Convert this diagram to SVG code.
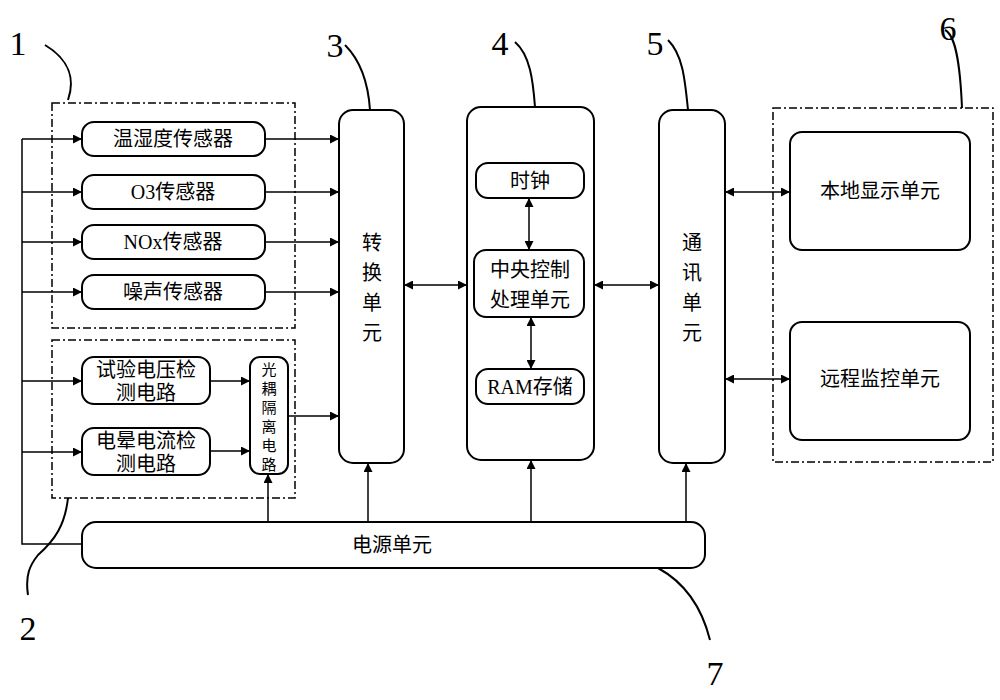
<svg xmlns="http://www.w3.org/2000/svg" width="1000" height="700" viewBox="0 0 1000 700">
<defs>
<marker id="a" viewBox="0 0 10 10" refX="10" refY="5" markerWidth="9" markerHeight="9" markerUnits="userSpaceOnUse" orient="auto-start-reverse"><path d="M0,0L10,5L0,10z" fill="#000"/></marker>
<style>
.b{fill:#fff;stroke:#000;stroke-width:2}
.d{fill:none;stroke:#000;stroke-width:1.5;stroke-dasharray:8 3 2 3}
.c{fill:none;stroke:#000;stroke-width:1.5}
.e{fill:none;stroke:#000;stroke-width:1.5;marker-end:url(#a)}
.f{fill:none;stroke:#000;stroke-width:1.5;marker-end:url(#a);marker-start:url(#a)}
.l{fill:none;stroke:#000;stroke-width:2}
text{font-family:"Liberation Serif","Noto Sans CJK SC",serif;font-size:20px;text-anchor:middle;fill:#000}
.n{font-size:34px}
.s{font-size:15px}
</style>
</defs>
<rect width="1000" height="700" fill="#fff"/>
<rect class="d" x="52" y="103" width="243" height="225"/>
<rect class="d" x="52" y="340" width="243" height="158"/>
<rect class="d" x="773" y="108" width="220" height="354"/>
<g id="n1"><rect class="b" x="82" y="122" width="183" height="34" rx="12"/><text x="173" y="146">温湿度传感器</text></g>
<g id="n2"><rect class="b" x="82" y="175" width="183" height="34" rx="12"/><text x="173" y="199">O3传感器</text></g>
<g id="n3"><rect class="b" x="82" y="225" width="183" height="34" rx="12"/><text x="173" y="249">NOx传感器</text></g>
<g id="n4"><rect class="b" x="82" y="275" width="183" height="34" rx="12"/><text x="173" y="299">噪声传感器</text></g>
<g id="n5"><rect class="b" x="82" y="357" width="128" height="47" rx="12"/><text x="146" y="377">试验电压检</text><text x="146" y="400">测电路</text></g>
<g id="n6"><rect class="b" x="82" y="428" width="128" height="47" rx="12"/><text x="146" y="448">电晕电流检</text><text x="146" y="471">测电路</text></g>
<g id="n7"><rect class="b" x="250" y="357" width="38" height="117" rx="10"/><text class="s" x="269" y="375">光</text><text class="s" x="269" y="394">耦</text><text class="s" x="269" y="413">隔</text><text class="s" x="269" y="432">离</text><text class="s" x="269" y="451">电</text><text class="s" x="269" y="470">路</text></g>
<g id="n8"><rect class="b" x="339" y="110" width="65" height="353" rx="14"/><text x="372" y="250">转</text><text x="372" y="280">换</text><text x="372" y="310">单</text><text x="372" y="340">元</text></g>
<g id="n9"><rect class="b" x="467" y="107" width="127" height="353" rx="14"/></g>
<g id="n10"><rect class="b" x="476" y="163" width="108" height="35" rx="12"/><text x="530" y="188">时钟</text></g>
<g id="n11"><rect class="b" x="474" y="250" width="110" height="67" rx="12"/><text x="530" y="277">中央控制</text><text x="530" y="307">处理单元</text></g>
<g id="n12"><rect class="b" x="476" y="369" width="108" height="35" rx="12"/><text x="530" y="394">RAM存储</text></g>
<g id="n13"><rect class="b" x="659" y="110" width="66" height="353" rx="14"/><text x="692" y="250">通</text><text x="692" y="280">讯</text><text x="692" y="310">单</text><text x="692" y="340">元</text></g>
<g id="n14"><rect class="b" x="790" y="132" width="180" height="118" rx="12"/><text x="880" y="198">本地显示单元</text></g>
<g id="n15"><rect class="b" x="790" y="322" width="180" height="118" rx="12"/><text x="880" y="386">远程监控单元</text></g>
<g id="n16"><rect class="b" x="82" y="522" width="623" height="46" rx="14"/><text x="392" y="552">电源单元</text></g>
<g id="connectors">
<path class="c" d="M82,544H22V139"/>
<path class="e" d="M22,139H82"/><path class="e" d="M22,192H82"/><path class="e" d="M22,242H82"/><path class="e" d="M22,292H82"/><path class="e" d="M22,381H82"/><path class="e" d="M22,452H82"/>
<path class="e" d="M265,139H339"/><path class="e" d="M265,192H339"/><path class="e" d="M265,242H339"/><path class="e" d="M265,292H339"/><path class="e" d="M288,416H339"/><path class="e" d="M210,381H250"/><path class="e" d="M210,451H250"/>
<path class="e" d="M268,522V474"/><path class="e" d="M368,522V463"/><path class="e" d="M531,522V460"/><path class="e" d="M686,522V463"/>
<path class="f" d="M404,285H467"/><path class="f" d="M594,285H659"/><path class="f" d="M725,192H790"/><path class="f" d="M725,379H790"/><path class="f" d="M529,198V250"/><path class="f" d="M531,317V369"/>
<path class="l" d="M68,100C75,80 70,60 45,45M370,110C368,80 360,60 345,45M535,107C533,80 530,55 515,42M688,110C685,80 683,55 668,40M962,108C960,60 955,35 945,30M68,498C65,525 55,540 38,555C30,565 25,575 28,595M658,568C680,580 700,600 710,640"/>
</g>
<text class="n" x="18" y="55">1</text>
<text class="n" x="335" y="57">3</text>
<text class="n" x="500" y="55">4</text>
<text class="n" x="655" y="55">5</text>
<text class="n" x="948" y="40">6</text>
<text class="n" x="28" y="640">2</text>
<text class="n" x="715" y="685">7</text>
</svg>
